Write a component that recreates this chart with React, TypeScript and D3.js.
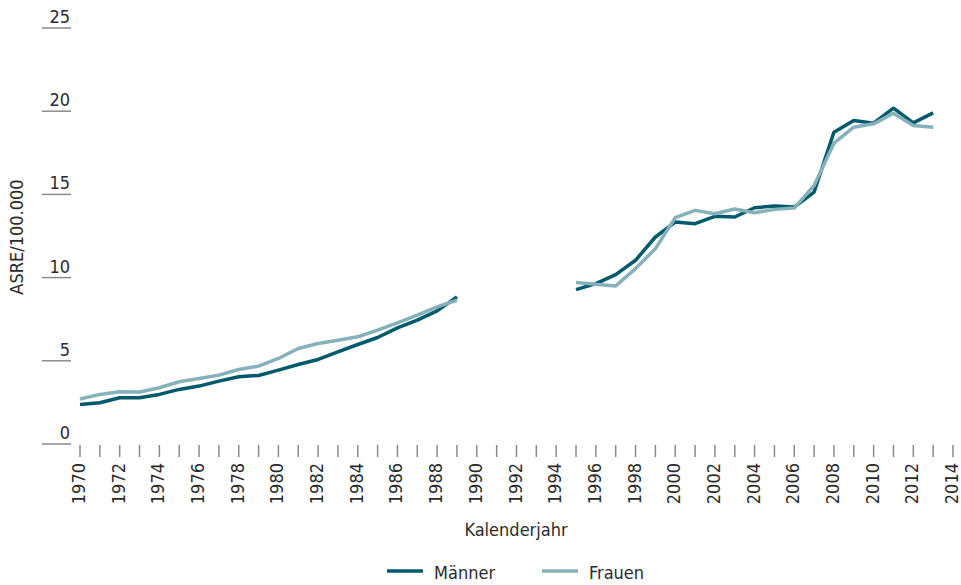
import { useEffect, useRef } from "react";
import * as d3 from "d3";

// Kalenderjahre 1970-2013, Lücke 1990-1994 (keine Daten)
const years = [
  1970, 1971, 1972, 1973, 1974, 1975, 1976, 1977, 1978, 1979,
  1980, 1981, 1982, 1983, 1984, 1985, 1986, 1987, 1988, 1989,
  1990, 1991, 1992, 1993, 1994,
  1995, 1996, 1997, 1998, 1999, 2000, 2001, 2002, 2003, 2004,
  2005, 2006, 2007, 2008, 2009, 2010, 2011, 2012, 2013,
];

const maenner: (number | null)[] = [
  2.38, 2.48, 2.78, 2.78, 2.98, 3.28, 3.48, 3.78, 4.04, 4.12,
  4.44, 4.78, 5.08, 5.54, 5.98, 6.4, 6.98, 7.44, 8.0, 8.84,
  null, null, null, null, null,
  9.28, 9.64, 10.18, 11.04, 12.44, 13.34, 13.24, 13.68, 13.64, 14.2,
  14.3, 14.24, 15.14, 18.74, 19.44, 19.28, 20.18, 19.3, 19.9,
];

const frauen: (number | null)[] = [
  2.7, 2.98, 3.14, 3.12, 3.38, 3.74, 3.94, 4.14, 4.48, 4.68,
  5.14, 5.74, 6.04, 6.24, 6.44, 6.84, 7.28, 7.74, 8.24, 8.64,
  null, null, null, null, null,
  9.7, 9.6, 9.5, 10.54, 11.74, 13.6, 14.04, 13.84, 14.12, 13.9,
  14.1, 14.18, 15.54, 18.08, 19.04, 19.24, 19.88, 19.14, 19.04,
];

const yTicks = [0, 5, 10, 15, 20, 25];
const xTickYears = [1970, 2014];

const series = [
  { name: "Männer", values: maenner, color: "#005a6c" },
  { name: "Frauen", values: frauen, color: "#85b1ba" },
];

const font = "'DejaVu Sans Condensed', 'DejaVu Sans', sans-serif";

export default function App() {
  const svgRef = useRef<SVGSVGElement>(null);

  useEffect(() => {
    const w = 961;
    const h = 585;
    const svg = d3.select(svgRef.current).attr("width", w).attr("height", h);
    svg.selectAll("*").remove();

    const x = d3.scaleLinear().domain(xTickYears).range([80, 953]);
    const y = d3.scaleLinear().domain([0, 25]).range([444, 28]);

    // y-Achse: kurze Striche mit Zahl darüber
    const yg = svg.append("g");
    yg.selectAll("line")
      .data(yTicks)
      .join("line")
      .attr("x1", 42)
      .attr("x2", 71)
      .attr("y1", (d) => y(d))
      .attr("y2", (d) => y(d))
      .attr("stroke", "#8a8a8a")
      .attr("stroke-width", 1.5);
    yg.selectAll("text")
      .data(yTicks)
      .join("text")
      .attr("x", 70)
      .attr("y", (d) => y(d) - 5)
      .attr("text-anchor", "end")
      .attr("font-family", font)
      .attr("font-size", 18)
      .attr("fill", "#2b2b2b")
      .text((d) => d);

    // x-Achse: Striche jedes Jahr, Beschriftung alle 2 Jahre
    const allYears = d3.range(xTickYears[0], xTickYears[1] + 1);
    const xg = svg.append("g");
    xg.selectAll("line")
      .data(allYears)
      .join("line")
      .attr("x1", (d) => x(d))
      .attr("x2", (d) => x(d))
      .attr("y1", 445)
      .attr("y2", 457)
      .attr("stroke", "#8a8a8a")
      .attr("stroke-width", 1.5);
    xg.selectAll("text")
      .data(allYears.filter((d) => d % 2 === 0))
      .join("text")
      .attr("transform", (d) => `translate(${x(d) + 5},463) rotate(-90)`)
      .attr("text-anchor", "end")
      .attr("font-family", font)
      .attr("font-size", 18)
      .attr("fill", "#2b2b2b")
      .text((d) => d);

    svg.append("text")
      .attr("x", 516)
      .attr("y", 536)
      .attr("text-anchor", "middle")
      .attr("font-family", font)
      .attr("font-size", 18)
      .attr("fill", "#2b2b2b")
      .text("Kalenderjahr");

    svg.append("text")
      .attr("transform", "translate(23,237) rotate(-90)")
      .attr("text-anchor", "middle")
      .attr("font-family", font)
      .attr("font-size", 18)
      .attr("fill", "#2b2b2b")
      .text("ASRE/100.000");

    const line = d3
      .line<number | null>()
      .defined((d) => d !== null)
      .x((d, i) => x(years[i]))
      .y((d) => y(d as number));

    svg.selectAll(".series")
      .data(series)
      .join("path")
      .attr("class", "series")
      .attr("d", (s) => line(s.values))
      .attr("fill", "none")
      .attr("stroke", (s) => s.color)
      .attr("stroke-width", 3.5)
      .attr("stroke-linejoin", "round");

    // Legende
    const legendX = [387, 542];
    const lg = svg.append("g");
    series.forEach((s, i) => {
      lg.append("line")
        .attr("x1", legendX[i])
        .attr("x2", legendX[i] + 36)
        .attr("y1", 571)
        .attr("y2", 571)
        .attr("stroke", s.color)
        .attr("stroke-width", 3.5);
      lg.append("text")
        .attr("x", legendX[i] + 47)
        .attr("y", 579)
        .attr("font-family", font)
        .attr("font-size", 18)
        .attr("fill", "#2b2b2b")
        .text(s.name);
    });
  }, []);

  return (
    <div style={{ position: "absolute", left: 0, top: 0 }}>
      <svg ref={svgRef} style={{ display: "block" }}></svg>
    </div>
  );
}
